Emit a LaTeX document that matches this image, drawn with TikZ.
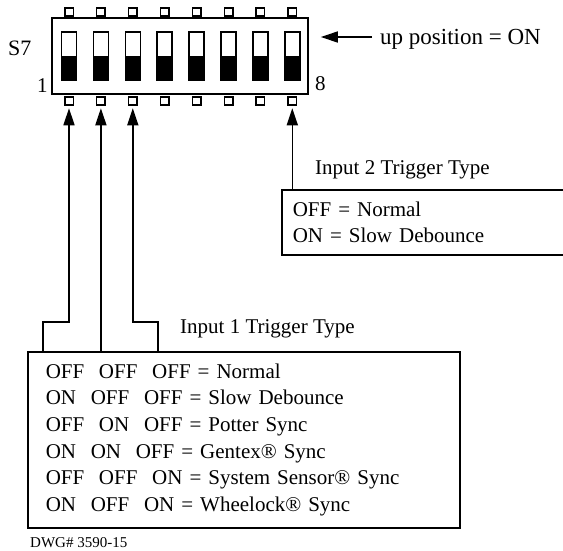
\documentclass[tikz,border=0pt]{standalone}
\usepackage{fontspec}
\setmainfont{Liberation Serif}
\usetikzlibrary{calc, positioning, arrows.meta}
\newcommand{\colgap}{\hspace{0.7em}}

\begin{document}
\begin{tikzpicture}[
	x=1pt, y=-1pt,
	every node/.style={font=\fontsize{21}{26.7}\selectfont, inner sep=0pt},
	housing/.style={draw, line width=1.6pt, minimum width=256pt, minimum height=76pt},
	pad/.style={draw, line width=1.5pt, minimum width=8.5pt, minimum height=8pt},
	lever/.style={draw, line width=1.5pt, minimum width=15pt, minimum height=48pt},
	legend/.style={draw, line width=1.6pt, anchor=north west, align=left},
	wire/.style={line width=1.5pt},
	>={Triangle[length=17pt, width=11pt]},
	]
	
	\useasboundingbox (0,0) rectangle (563,550);
	
	% DIP-Schalter S7 mit 8 Hebeln
	\node[housing] (Switch) at (180,56) {};
	\foreach \i in {1,...,8} {
		\node[pad] (PadTop\i) at ({69+31.9*(\i-1)},12) {};
		\node[pad] (PadBot\i) at ({69+31.9*(\i-1)},101) {};
		\node[lever] (Lever\i) at ({69+31.9*(\i-1)},56.2) {};
		\fill (Lever\i.west) rectangle (Lever\i.south east);
	}
	
	\node[anchor=base west, font=\fontsize{22}{26}\selectfont] (S7) at (8,55) {S7};
	\node[anchor=base west] (One) at (37,92) {1};
	\node[anchor=base west] (Eight) at (315,90) {8};
	\node[anchor=base west, font=\fontsize{23}{28}\selectfont] (UpOn) at (380,44) {up position = ON};
	\coordinate (UpTail) at (372,37);
	\draw[wire, ->, shorten >=12pt] (UpTail) -- (Switch.east |- UpTail);
	
	% Tabellen
	\node[anchor=base west] (Title2) at (315,174) {Input 2 Trigger Type};
	\node[legend, inner xsep=11pt, text width=268pt, minimum height=65pt] (Input2) at (281,189)
		{OFF = Normal\\ON = Slow Debounce};
	
	\node[anchor=base west] (Title1) at (180,333) {Input 1 Trigger Type};
	\node[legend, inner xsep=18pt, text width=396pt, minimum height=176pt] (Input1) at (27,351)
		{OFF\colgap OFF\colgap OFF = Normal\\
		 ON\colgap OFF\colgap OFF = Slow Debounce\\
		 OFF\colgap ON\colgap OFF = Potter Sync\\
		 ON\colgap ON\colgap OFF = Gentex® Sync\\
		 OFF\colgap OFF\colgap ON = System Sensor® Sync\\
		 ON\colgap OFF\colgap ON = Wheelock® Sync};
	
	\node[anchor=base west, font=\fontsize{15}{18}\selectfont] (Dwg) at (30,547) {DWG\# 3590-15};
	
	% Leitungen
	\coordinate (Step1) at (43,322);
	\coordinate (Step3) at (158,322);
	\draw[wire, ->, shorten >=2.5pt] (Step1 |- Input1.north) -- (Step1) -| (PadBot1.south);
	\draw[wire, ->, shorten >=2.5pt] (PadBot2 |- Input1.north) -- (PadBot2.south);
	\draw[wire, ->, shorten >=2.5pt] (Step3 |- Input1.north) -- (Step3) -| (PadBot3.south);
	\draw[wire, ->, shorten >=2.5pt] (PadBot8 |- Input2.north) -- (PadBot8.south);
	
\end{tikzpicture}
\end{document}
